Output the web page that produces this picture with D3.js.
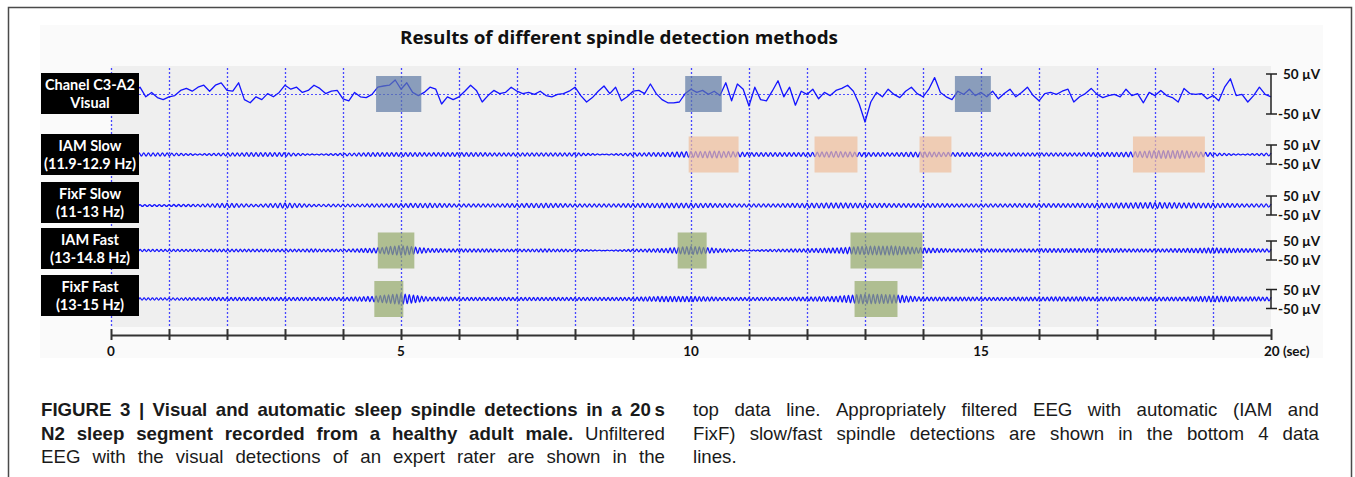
<!DOCTYPE html>
<html><head><meta charset="utf-8">
<script src="https://cdn.jsdelivr.net/npm/d3@7"></script>
<style>body{margin:0;background:#fff} svg{display:block}</style>
</head><body>
<svg id="c" width="1355" height="477"></svg>
<script>
// ---------------- DATA ----------------
const chartTitle = "Results of different spindle detection methods";
const channelNames = ["Chanel C3-A2", "IAM Slow", "FixF Slow", "IAM Fast", "FixF Fast"];
const channelSubs = ["Visual", "(11.9-12.9 Hz)", "(11-13 Hz)", "(13-14.8 Hz)", "(13-15 Hz)"];
const timeTickValues = d3.range(0, 21);
const timeLabelValues = [0, 5, 10, 15, 20];
const timeLabelTexts = ["0", "5", "10", "15", "20 (sec)"];
const scaleLabels = ["50 µV", "-50 µV"];

// raw EEG (µV), sampled every 0.1 s, t = 0 .. 20 s
const rawEEG = [0,5,-5,3,8, 17,-7,4,-9,-14, -7,-4,9,14,7, 17,22,7,22,28, 9,7,28,-14,-22,
  -7,-14,1,-7,4, 22,12,17,4,9, 22,14,1,7,9, -12,-17,4,-7,-9, -1,17,20,22,35,
  12,28,4,-4,4, 17,12,-25,-7,-14, -7,7,22,9,-20, -4,9,1,4,17, 7,1,4,-1,7,
  -4,-7,-1,1,7, 17,-4,-20,-9,7, 20,1,17,-17,-7, 7,9,1,25,1, -14,-22,-22,-20,1,
  12,4,9,-1,7, -4,28,-17,25,12, -30,17,-14,-17,7, 33,-7,17,-28,7, -1,12,-12,4,-4,
  9,14,22,7,-25, -70,-20,4,-7,12, -1,-9,7,17,1, -7,12,41,4,-7, -14,7,-1,12,-4,
  4,-7,7,-12,1, 12,-7,4,17,-4, -17,1,4,-1,7, 12,-20,-7,1,14, -1,-9,-4,-1,-7,
  12,-4,1,-22,4, -4,9,-4,-9,-20, 14,1,-1,1,-12, -4,-17,17,38,-4, -1,-20,-4,17,-1, -7];

// filtered channels: oscillation peak amplitude (µV) every 0.5 s, t = 0 .. 20 s
const iamSlowEnv  = [8,8,8,3,8, 10,10,2,6,10, 10,9,10,9,8, 8,9,1,8,10, 16,18,10,10,10, 16,10,9,14,10, 9,8,8,8,10, 12,20,20,8,2, 8];
const fixfSlowEnv = [5,5,5,6,12, 6,14,6,7,8, 10,12,8,8,10, 12,8,8,10,12, 12,10,8,9,12, 14,12,10,10,9, 8,9,10,10,12, 14,16,14,12,9, 8];
const iamFastEnv  = [6,6,6,6,7, 7,7,8,6,12, 26,10,8,8,7, 8,6,1,6,10, 22,10,2,7,9, 14,22,24,14,8, 8,8,9,10,10, 9,8,10,14,10, 8];
const fixfFastEnv = [6,6,6,7,9, 9,9,8,8,14, 28,10,9,9,8, 9,8,8,9,14, 14,9,8,8,10, 14,26,22,10,10, 9,9,10,11,10, 9,10,10,16,11, 10];
const bandFreqs = [12.4, 12.0, 13.9, 14.0]; // Hz

// detections (start, end in seconds)
const visualSpindles   = [[4.57, 5.35], [9.90, 10.53], [14.55, 15.17]];
const iamSlowSpindles  = [[9.96, 10.82], [12.13, 12.87], [13.94, 14.49], [17.62, 18.86]];
const fixfSlowSpindles = [];
const iamFastSpindles  = [[4.60, 5.23], [9.77, 10.27], [12.75, 13.99]];
const fixfFastSpindles = [[4.54, 5.04], [12.82, 13.56]];

const captionLeft = [
  [["FIGURE 3 | Visual and automatic sleep spindle detections in a 20\u2009s", true]],
  [["N2 sleep segment recorded from a healthy adult male.", true], ["Unfiltered", false]],
  [["EEG with the visual detections of an expert rater are shown in the", false]]
];
const captionRight = [
  [["top data line. Appropriately filtered EEG with automatic (IAM and", false]],
  [["FixF) slow/fast spindle detections are shown in the bottom 4 data", false]],
  [["lines.", false]]
];

// ---------------- LAYOUT ----------------
const svg = d3.select("#c");
const W = 1355, H = 477;
const x = d3.scaleLinear().domain([0, 20]).range([111, 1271]);
const rowCenters = [94, 154.5, 205.5, 250.5, 299];
const rowHalf = [20, 9.5, 9.5, 9.5, 9.5];
const ys = rowCenters.map((c, i) => d3.scaleLinear().domain([-50, 50]).range([c + rowHalf[i], c - rowHalf[i]]));
const labelTops = [73, 134, 182, 228, 275];
const plotTop = 66, plotBottom = 327, axisY = 335;
const traceColor = "#1414ff";
const uiFont = "Lato, 'Open Sans', sans-serif";

// frame
svg.append("path").attr("d", `M8.5,${H+2} V7.5 H1351.5 V${H+2}`).attr("fill", "none").attr("stroke", "#4a4a4a").attr("stroke-width", 1.5);
// light panel
svg.append("rect").attr("x", 40).attr("y", 25).attr("width", 1283).attr("height", 333).attr("fill", "#fafafa");
// plot area
svg.append("rect").attr("x", x(0)).attr("y", plotTop).attr("width", x(20) - x(0)).attr("height", plotBottom - plotTop).attr("fill", "#efefef");

// title
svg.append("text").attr("x", 400).attr("y", 44)
  .attr("font-family", "'Open Sans', Lato, sans-serif").attr("font-weight", 700).attr("font-size", 18)
  .attr("textLength", 438).attr("lengthAdjust", "spacingAndGlyphs")
  .attr("fill", "#111").text(chartTitle);

// vertical dotted grid
svg.append("g").selectAll("line").data(d3.range(0, 20)).join("line")
  .attr("x1", d => Math.round(x(d)) + 0.5).attr("x2", d => Math.round(x(d)) + 0.5)
  .attr("y1", plotTop + 2).attr("y2", plotBottom)
  .attr("stroke", "#4646ff").attr("stroke-width", 1.3).attr("stroke-dasharray", "2,2");

// top baseline dotted
svg.append("line").attr("x1", x(0)).attr("x2", x(20)).attr("y1", Math.round(ys[0](0)) + 0.5).attr("y2", Math.round(ys[0](0)) + 0.5)
  .attr("stroke", "#5050ff").attr("stroke-width", 1.2).attr("stroke-dasharray", "2,2");

// traces
const rawPts = rawEEG.map((v, i) => [i * 20 / (rawEEG.length - 1), v]);
svg.append("path").attr("d", d3.line().x(d => x(d[0])).y(d => ys[0](d[1]))(rawPts))
  .attr("fill", "none").attr("stroke", traceColor).attr("stroke-width", 1.3).attr("stroke-linejoin", "round");

const envs = [iamSlowEnv, fixfSlowEnv, iamFastEnv, fixfFastEnv];
envs.forEach((env, j) => {
  const f = bandFreqs[j];
  const envAt = t => {
    const p = t / 0.5, i = Math.min(Math.floor(p), env.length - 2), r = p - i;
    return env[i] * (1 - r) + env[i + 1] * r;
  };
  const n = Math.floor(20 * 2 * f);
  const pts = d3.range(0, n + 1).map(k => { const t = k / (2 * f); return [t, (k % 2 ? -1 : 1) * envAt(t)]; });
  svg.append("path").attr("d", d3.line().x(d => x(d[0])).y(d => ys[j + 1](d[1])).curve(d3.curveCardinal)(pts))
    .attr("fill", "none").attr("stroke", traceColor).attr("stroke-width", 1.3);
});

// detection boxes
const detSets = [
  [visualSpindles, 0, "rgb(95,122,165)"],
  [iamSlowSpindles, 1, "rgb(240,190,155)"],
  [fixfSlowSpindles, 2, "rgb(240,190,155)"],
  [iamFastSpindles, 3, "rgb(148,169,105)"],
  [fixfFastSpindles, 4, "rgb(148,169,105)"]
];
detSets.forEach(([set, r, col]) => {
  svg.append("g").selectAll("rect").data(set).join("rect")
    .attr("x", d => x(d[0])).attr("width", d => x(d[1]) - x(d[0]))
    .attr("y", rowCenters[r] - 18).attr("height", 36)
    .attr("fill", col).attr("fill-opacity", 0.7);
});

// label boxes
channelNames.forEach((nm, i) => {
  const g = svg.append("g");
  g.append("rect").attr("x", 41).attr("y", labelTops[i]).attr("width", 98).attr("height", 41).attr("fill", "#000");
  const cy = labelTops[i] + 20.5;
  g.append("text").attr("x", 90).attr("y", cy - 4).attr("text-anchor", "middle")
    .attr("font-family", uiFont).attr("font-weight", 700).attr("font-size", 14.5).attr("fill", "#fff").text(nm);
  g.append("text").attr("x", 90).attr("y", cy + 14).attr("text-anchor", "middle")
    .attr("font-family", uiFont).attr("font-weight", 700).attr("font-size", 14.5).attr("fill", "#fff").text(channelSubs[i]);
});

// scale bars
rowCenters.forEach((c, i) => {
  const y = ys[i];
  const g = svg.append("g").attr("stroke", "#222").attr("stroke-width", 1.5);
  g.append("line").attr("x1", 1271).attr("x2", 1271).attr("y1", y(50)).attr("y2", y(-50));
  g.append("line").attr("x1", 1266).attr("x2", 1277).attr("y1", y(50)).attr("y2", y(50));
  g.append("line").attr("x1", 1266).attr("x2", 1277).attr("y1", y(-50)).attr("y2", y(-50));
  svg.append("text").attr("x", 1283).attr("y", y(50) + 5).attr("font-family", uiFont)
    .attr("font-weight", 700).attr("font-size", 13.5).attr("fill", "#111").text(scaleLabels[0]);
  svg.append("text").attr("x", 1278).attr("y", y(-50) + 5).attr("font-family", uiFont)
    .attr("font-weight", 700).attr("font-size", 13.5).attr("fill", "#111").text(scaleLabels[1]);
});

// time axis
const axis = d3.axisBottom(x).tickValues(timeTickValues).tickSize(0).tickFormat("");
const ag = svg.append("g").attr("transform", `translate(0,${axisY})`).call(axis);
ag.select(".domain").attr("stroke", "#333").attr("stroke-width", 2);
ag.selectAll(".tick line").attr("y1", -6).attr("y2", 5).attr("stroke", "#333").attr("stroke-width", 2);
svg.append("g").selectAll("text").data(timeLabelValues).join("text")
  .attr("x", (d, i) => i === 4 ? x(d) - 7 : x(d)).attr("y", 356)
  .attr("text-anchor", (d, i) => i === 4 ? "start" : "middle")
  .attr("font-family", uiFont).attr("font-weight", 700).attr("font-size", 13.5).attr("fill", "#111")
  .text((d, i) => timeLabelTexts[i]);

// caption (justified, condensed)
const capFont = "'Liberation Sans', Arial, sans-serif";
const capSize = 18;
function wordsOf(segs) {
  const words = [];
  segs.forEach(([txt, bold]) => txt.split(" ").forEach(w => words.push([w, bold])));
  return words;
}
function measure(w, b) {
  const t = svg.append("text").attr("font-family", capFont).attr("font-size", capSize).attr("font-weight", b ? 700 : 400).text(w);
  const l = t.node().getComputedTextLength(); t.remove(); return l;
}
const refTotal = d3.sum(wordsOf(captionLeft[2]), ([w, b]) => measure(w, b));
const capScale = 480 / refTotal;
function justified(lines, x0, x1, y0, lh, lastLeft) {
  lines.forEach((segs, li) => {
    const words = wordsOf(segs);
    const y = y0 + li * lh;
    const els = words.map(([w, b]) => svg.append("text").attr("x", 0).attr("y", 0).attr("font-family", capFont)
      .attr("font-size", capSize).attr("font-weight", b ? 700 : 400).attr("fill", "#1a1a1a").text(w));
    const widths = els.map(e => e.node().getComputedTextLength() * capScale);
    const total = d3.sum(widths);
    const isLast = lastLeft && li === lines.length - 1;
    const gap = (isLast || words.length < 2) ? 5 : (x1 - x0 - total) / (words.length - 1);
    let cx = x0;
    els.forEach((e, k) => { e.attr("transform", `translate(${cx},${y}) scale(${capScale},1)`); cx += widths[k] + gap; });
  });
}
justified(captionLeft, 41, 665, 416, 23.5, false);
justified(captionRight, 693, 1319, 416, 23.5, true);
</script>
</body></html>
